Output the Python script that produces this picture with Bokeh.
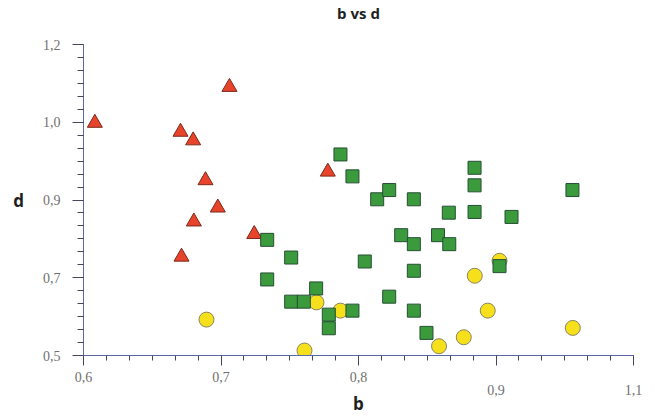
import numpy as np
from bokeh.plotting import figure
from bokeh.models import FixedTicker, LinearAxis, Range1d, Title
from bokeh.embed import file_html
from bokeh.resources import INLINE

# ---- data ----
red_b = [0.6103, 0.7327, 0.6882, 0.6997, 0.7109, 0.7221, 0.7003, 0.7552, 0.6891, 0.8221]
red_d = [1.0234, 1.1042, 1.0032, 0.9839, 0.8942, 0.8327, 0.8013, 0.7731, 0.7221, 0.9135]

green_b = [0.8336, 0.8445, 0.8670, 0.8779, 0.9003, 0.9321, 0.9555, 0.9555, 0.9555, 0.9891,
           1.0445, 0.7670, 0.8888, 0.9003, 0.9223, 0.9325, 0.7888, 0.8557, 0.9003, 0.9782,
           0.7670, 0.8115, 0.7888, 0.8003, 0.8779, 0.8230, 0.8445, 0.9003, 0.8230, 0.9118]
green_d = [0.9525, 0.9032, 0.8516, 0.8724, 0.8516, 0.8215, 0.9225, 0.8830, 0.8231, 0.8119,
           0.8724, 0.7603, 0.7708, 0.7506, 0.7708, 0.7506, 0.7205, 0.7116, 0.6907, 0.7012,
           0.6712, 0.6510, 0.6212, 0.6212, 0.6324, 0.5920, 0.6010, 0.6010, 0.5613, 0.5509]

yellow_b = [0.7118, 0.8118, 0.8336, 0.8009, 0.9232, 0.9457, 0.9675, 0.9557, 0.9782, 1.0448]
yellow_d = [0.5808, 0.6196, 0.6010, 0.5112, 0.5209, 0.5411, 0.6010, 0.6795, 0.7131, 0.5621]

x_ticks = [0.6, 0.725, 0.85, 0.975, 1.1]
x_labels = ["0,6", "0,7", "0,8", "0,9", "1,1"]
y_ticks = [0.5, 0.675, 0.85, 1.025, 1.2]
y_labels = ["0,5", "0,7", "0,9", "1,0", "1,2"]
x_lower = [0.975, 1.1]   # labels printed lower in the original

title_text = "b vs d"
x_title = "b"
y_title = "d"

x_min, x_max = 0.6, 1.1
y_min, y_max = 0.5, 1.2

p = figure(width=655, height=417,
           x_range=Range1d(x_min, x_max), y_range=Range1d(y_min, y_max),
           output_backend="svg", toolbar_location=None,
           x_axis_location=None, y_axis_location=None,
           min_border_left=83, min_border_right=22,
           min_border_top=43, min_border_bottom=62)
p.outline_line_color = None
p.background_fill_color = "white"
p.border_fill_color = "white"
p.grid.visible = False

# spacer (closest to the frame) then the real title (outermost)
p.add_layout(Title(text=" ", text_font_size="1px", standoff=18), "above")
p.add_layout(Title(text=title_text, align="center", text_font="Open Sans",
                   text_font_style="bold", text_font_size="15px",
                   text_color="#1e1e1e", standoff=1), "above")

axis_col = "#5b6aa6"
tick_col = "#44475e"
lab_font = "Liberation Serif"
lab_col = "#707070"

# x axis (upper labels)
xa_over = {t: (l if t not in x_lower else " ") for t, l in zip(x_ticks, x_labels)}
xa = LinearAxis(ticker=FixedTicker(ticks=x_ticks,
                                   minor_ticks=list(np.linspace(x_min, x_max, 25))),
                major_label_overrides=xa_over,
                axis_line_color=axis_col, major_tick_line_color=tick_col,
                minor_tick_line_color=tick_col,
                major_tick_out=10, major_tick_in=0, minor_tick_out=5, minor_tick_in=0,
                major_label_standoff=4,
                major_label_text_font=lab_font, major_label_text_font_size="14px",
                major_label_text_color=lab_col)
p.add_layout(xa, "below")

# x axis (lower-printed labels) + axis title
xb_over = {t: l for t, l in zip(x_ticks, x_labels) if t in x_lower}
xb = LinearAxis(ticker=FixedTicker(ticks=x_lower, minor_ticks=[]),
                major_label_overrides=xb_over,
                axis_line_color=None, major_tick_line_color=None,
                minor_tick_line_color=None,
                major_tick_out=0, major_tick_in=0, minor_tick_out=0, minor_tick_in=0,
                major_label_standoff=-3,
                major_label_text_font=lab_font, major_label_text_font_size="14px",
                major_label_text_color=lab_col,
                axis_label=x_title, axis_label_standoff=-6,
                axis_label_text_font="Open Sans", axis_label_text_font_style="bold",
                axis_label_text_font_size="17px", axis_label_text_color="#1e1e1e")
p.add_layout(xb, "below")

ya = LinearAxis(ticker=FixedTicker(ticks=y_ticks,
                                   minor_ticks=list(np.linspace(y_min, y_max, 25))),
                major_label_overrides=dict(zip(y_ticks, y_labels)),
                axis_line_color=axis_col, major_tick_line_color=tick_col,
                minor_tick_line_color=tick_col,
                major_tick_out=11, major_tick_in=0, minor_tick_out=6, minor_tick_in=0,
                major_label_standoff=12,
                major_label_text_font=lab_font, major_label_text_font_size="14px",
                major_label_text_color=lab_col,
                axis_label=y_title, axis_label_orientation="horizontal",
                axis_label_standoff=16,
                axis_label_text_font="Open Sans", axis_label_text_font_style="bold",
                axis_label_text_font_size="17px", axis_label_text_color="#1e1e1e")
p.add_layout(ya, "left")

p.scatter(red_b, red_d, marker="triangle", size=15,
          fill_color="#e8432b", line_color="#7a2a1c", line_width=1)
p.scatter(yellow_b, yellow_d, marker="circle", size=15,
          fill_color="#f6e01c", line_color="#8a8460", line_width=1)
p.scatter(green_b, green_d, marker="square", size=13,
          fill_color="#3a9a3c", line_color="#264f34", line_width=1)

open("out.html", "w").write(file_html(p, INLINE))
